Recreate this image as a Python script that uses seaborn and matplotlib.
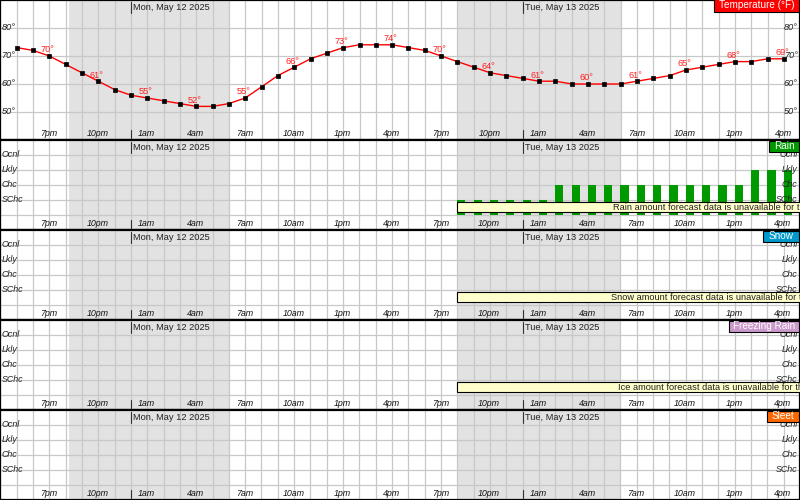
import numpy as np
import pandas as pd
import matplotlib
matplotlib.use("Agg")
import matplotlib.pyplot as plt
import matplotlib.transforms as mtransforms
from matplotlib.patches import Rectangle
import seaborn as sns

# ---------------- data ----------------
start_time = "2025-05-11 17:00"
temps = [73, 72, 70, 67, 64, 61, 58,
         56, 55, 54, 53, 52, 52, 53, 55, 59, 63, 66, 69, 71, 73, 74, 74, 74,
         73, 72, 70, 68, 66, 64, 63,
         62, 61, 61, 60, 60, 60, 60, 61, 62, 63, 65, 66, 67, 68, 68, 69, 69]
rain_start = "2025-05-12 20:00"
rain_pop = [20, 20, 20, 20, 20, 20,
            40, 40, 40, 40, 40, 40, 40, 40, 40, 40, 40, 40,
            60, 60, 60]
time_labels = ["7pm", "10pm", "1am", "4am", "7am", "10am", "1pm", "4pm"]
date_labels = ["Mon, May 12 2025", "Tue, May 13 2025"]
date_times = ["2025-05-12 00:00", "2025-05-13 00:00"]
cat_labels = ["SChc", "Chc", "Lkly", "Ocnl"]
cat_levels = [20, 40, 60, 80]
temp_ticks = [50, 60, 70, 80]
nights = [("2025-05-11 20:13", "2025-05-12 06:00"),
          ("2025-05-12 20:00", "2025-05-13 06:00")]
panel_names = ["Rain", "Snow", "Freezing Rain", "Sleet"]
panel_colors = ["#009900", "#0099cc", "#cc99cc", "#ff6600"]
unavail_msgs = ["Rain amount forecast data is unavailable for this time period",
                "Snow amount forecast data is unavailable for this time period",
                "Ice amount forecast data is unavailable for this time period",
                None]

# ---------------- helpers ----------------
t0 = pd.Timestamp(start_time)
def hrs(t):
    return (pd.Timestamp(t) - t0) / pd.Timedelta("1h")

W, H = 800, 500
PX_HR = 16.325
X0PX = 16.7
xmin, xmax = -X0PX / PX_HR, (W - X0PX) / PX_HR

sns.set_style("white")
plt.rcParams["font.family"] = ["Liberation Sans", "DejaVu Sans"]

fig = plt.figure(figsize=(8, 5), dpi=100)

GRID = "#c8c8c8"
SHADE = "#e2e2e2"

def base_axes(top_px, bot_px):
    ax = fig.add_axes([0, 1 - bot_px / H, 1, (bot_px - top_px) / H])
    ax.set_xlim(xmin, xmax)
    ax.set_xticks(np.arange(-1, 49))
    ax.tick_params(length=0, labelbottom=False, labelleft=False)
    ax.grid(True, color=GRID, lw=0.9)
    ax.set_axisbelow(True)
    for s in ax.spines.values():
        s.set_color("black")
        s.set_linewidth(1.6)
        s.set_visible(True)
    for a, b in nights:
        ax.axvspan(hrs(a), hrs(b), color=SHADE, lw=0, zorder=0.1)
    height = bot_px - top_px
    tr = mtransforms.blended_transform_factory(ax.transData, ax.transAxes)
    # time labels along the bottom row
    lab_hours = np.arange(2, 48, 3)
    for i, h in enumerate(lab_hours):
        ax.text(h - 0.05, 6.5 / height, time_labels[i % len(time_labels)], transform=tr,
                ha="center", va="center", fontsize=6.4, style="italic", color="#111111", zorder=5)
    # date labels and midnight markers
    for d, lbl in zip(date_times, date_labels):
        h = hrs(d)
        ax.text(h + 0.12, 1 - 7.2 / height, lbl, transform=tr, ha="left", va="center",
                fontsize=6.7, color="#222222", zorder=5)
        ax.plot([h, h], [1 - 12.5 / height, 1 - 1.5 / height], transform=tr, color="#333333", lw=0.8, zorder=5)
        ax.plot([h, h], [2.5 / height, 10.5 / height], transform=tr, color="#333333", lw=0.8, zorder=5)
    return ax, tr

def fig_box(x0, y0, x1, y1, color, text):
    fig.add_artist(Rectangle((x0 / W, 1 - y1 / H), (x1 - x0) / W, (y1 - y0) / H,
                             transform=fig.transFigure, facecolor=color, edgecolor="black",
                             lw=0.8, zorder=10))
    fig.text((x0 + x1) / 2 / W, 1 - (y0 + y1) / 2 / H, text, color="white", ha="center",
             va="center", fontsize=7.2, zorder=11)

# ---------------- temperature panel ----------------
ax_t, tr_t = base_axes(0, 140)
ax_t.set_ylim(40, 90)
ax_t.set_yticks(temp_ticks)
tdf = pd.DataFrame({"hour": [float(i) for i in range(len(temps))], "temp": temps})
tdf["hour"] = [hrs(t) for t in pd.date_range(start_time, periods=len(temps), freq="h")]
sns.lineplot(data=tdf, x="hour", y="temp", ax=ax_t, color="red", lw=1.0, marker="s",
             markersize=2.6, markerfacecolor="black", markeredgecolor="black",
             markeredgewidth=0.5, zorder=3)
for h, v in zip(tdf["hour"], tdf["temp"]):
    if (int(round(h)) - 2) % 3 == 0:
        ax_t.annotate(f"{v}°", (h, v), xytext=(-1.5, 4.4), textcoords="offset points",
                      ha="center", va="center", fontsize=6.6, color="#ff2020", zorder=4)
for v in temp_ticks:
    ax_t.text(1.5 / W, v, f"{v}°", transform=mtransforms.blended_transform_factory(ax_t.transAxes, ax_t.transData),
              ha="left", va="center", fontsize=6.6, style="italic", color="#222222", zorder=5)
    ax_t.text(797.5 / W, v, f"{v}°", transform=mtransforms.blended_transform_factory(ax_t.transAxes, ax_t.transData),
              ha="right", va="center", fontsize=6.6, style="italic", color="#222222", zorder=5)
ax_t.set_xlabel("")
ax_t.set_ylabel("")
ax_t.set_xlim(xmin, xmax)
fig_box(714, -1, 799, 11.7, "#ff0000", "Temperature (°F)")

# ---------------- precipitation panels ----------------
tops = [140, 230, 320, 410]
for k, (name, col, msg) in enumerate(zip(panel_names, panel_colors, unavail_msgs)):
    top = tops[k]
    ax, tr = base_axes(top, top + 90)
    ax.set_ylim(-20, 100)
    ax.set_yticks([0] + cat_levels)
    if k == 0:
        rdf = pd.DataFrame({
            "hour": [hrs(t) + 0.25 for t in pd.date_range(rain_start, periods=len(rain_pop), freq="h")],
            "pop": rain_pop})
        sns.barplot(data=rdf, x="hour", y="pop", ax=ax, native_scale=True, width=0.5,
                    color=col, saturation=1, linewidth=0, zorder=2)
        ax.set_xlabel("")
        ax.set_ylabel("")
        ax.set_xlim(xmin, xmax)
        ax.set_ylim(-20, 100)
        ax.set_xticks(np.arange(-1, 49))
        ax.set_yticks([0] + cat_levels)
        ax.tick_params(length=0, labelbottom=False, labelleft=False)
        ax.grid(True, color=GRID, lw=0.9)
        ax.set_axisbelow(True)
    ytr = mtransforms.blended_transform_factory(ax.transAxes, ax.transData)
    for lv, lb in zip(cat_levels, cat_labels):
        ax.text(1.5 / W, lv + 1.2, lb, transform=ytr, ha="left", va="center", fontsize=6.4,
                style="italic", color="#222222", zorder=5)
        ax.text(797.5 / W, lv + 1.2, lb, transform=ytr, ha="right", va="center", fontsize=6.4,
                style="italic", color="#222222", zorder=5)
    if msg is not None:
        y0 = 1 - 72.3 / 90
        y1 = 1 - 62.3 / 90
        ax.add_patch(Rectangle((hrs(nights[1][0]), y0), 40, y1 - y0, transform=tr,
                               facecolor="#ffffcc", edgecolor="black", lw=0.8, zorder=6, clip_on=True))
        msg_x = {0: 613, 1: 611, 2: 618}[k]
        ax.text(msg_x / W, (y0 + y1) / 2, msg, transform=ax.transAxes, ha="left", va="center",
                fontsize=6.7, color="#222222", zorder=7, clip_on=True)
    box_x0 = {0: 769, 1: 763, 2: 728.5, 3: 766.5}[k]
    fig_box(box_x0, top + 0.7, 799, top + 12, col, name)

fig.savefig("out.png", dpi=100)
